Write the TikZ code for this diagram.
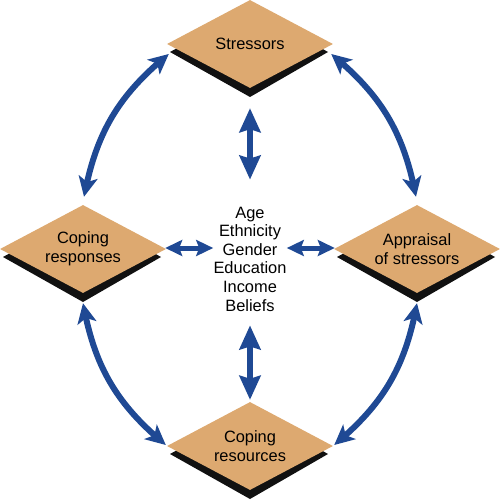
\documentclass[tikz,border=0pt]{standalone}
\usepackage{fontspec}
\setmainfont{Liberation Sans}
\usetikzlibrary{shapes.geometric,arrows.meta,calc,bending}
\definecolor{tan}{RGB}{221,169,112}
\definecolor{arrblue}{RGB}{31,73,148}
\definecolor{shade}{RGB}{17,17,17}
\tikzset{
  box/.style={diamond, fill=tan, inner sep=0pt, aspect=1.886,
    minimum width=166pt, minimum height=88pt, align=center,
    font=\fontsize{16.4pt}{18.6pt}\selectfont},
  shadowfill/.style={fill=shade},
  curvearr/.style={draw=arrblue, line width=6pt,
    {Stealth[length=20pt,width=19pt,inset=5pt,flex]}-{Stealth[length=20pt,width=19pt,inset=5pt,flex]}},
  vertarr/.style={draw=arrblue, line width=5.5pt,
    {Stealth[length=24pt,width=21pt,inset=3pt]}-{Stealth[length=24pt,width=21pt,inset=3pt]}},
  horarr/.style={draw=arrblue, line width=5pt,
    {Stealth[length=17pt,width=16pt,inset=3pt]}-{Stealth[length=17pt,width=16pt,inset=3pt]}},
  centertext/.style={align=center, inner sep=0pt,
    font=\fontsize{16.4pt}{18.6pt}\selectfont}
}
\begin{document}
\begin{tikzpicture}[x=1pt,y=-1pt]
\useasboundingbox (0,0) rectangle (500,500);
% centres
\coordinate (cS) at (250,44);
\coordinate (cR) at (83,249);
\coordinate (cA) at (417,249);
\coordinate (cC) at (250,446);
% shadows
\foreach \c in {cS,cR,cA,cC}{
  \fill[shadowfill] ($(\c)+(-80,8)$) -- ($(\c)+(0,-36)$) -- ($(\c)+(78,8)$) -- ($(\c)+(0,53)$) -- cycle;
}
% diamonds
\node[box] (stress) at (cS) {Stressors};
\node[box] (cope) at (cR) {Coping\\responses};
\node[box] (appr) at (cA) {Appraisal\\of stressors};
\node[box] (res) at (cC) {Coping\\resources};
% centre text
\node[centertext] (mid) at (250,259) {Age\\Ethnicity\\Gender\\Education\\Income\\Beliefs};
% arrow end points
\coordinate (tlA) at ($(stress.west)+(2,10)$);
\coordinate (tlB) at ($(cope.north)+(1,-8)$);
\coordinate (trA) at ($(stress.east)+(-2,10)$);
\coordinate (trB) at ($(appr.north)+(-1,-8)$);
\coordinate (blA) at ($(cope.south)+(0,10)$);
\coordinate (blB) at ($(res.west)+(-1,-1)$);
\coordinate (brA) at ($(appr.south)+(0,10)$);
\coordinate (brB) at ($(res.east)+(1,-1)$);
\coordinate (vtA) at ($(stress.south)+(0,20)$);
\coordinate (vtB) at ($(mid.north)+(0,-27)$);
\coordinate (vbA) at ($(mid.south)+(0,14)$);
\coordinate (vbB) at ($(res.north)+(0,-2)$);
\coordinate (hlA) at ($(cope.east)+(-1,-1)$);
\coordinate (hlB) at ($(cope.east)+(47,-1)$);
\coordinate (hrA) at ($(appr.west)+(-47,-1)$);
\coordinate (hrB) at ($(appr.west)+(1,-1)$);
% arrows
\draw[curvearr] (tlA) to[bend right=20] (tlB);
\draw[curvearr] (trA) to[bend left=20] (trB);
\draw[curvearr] (blA) to[bend right=20] (blB);
\draw[curvearr] (brA) to[bend left=20] (brB);
\draw[vertarr] (vtA) -- (vtB);
\draw[vertarr] (vbA) -- (vbB);
\draw[horarr] (hlA) -- (hlB);
\draw[horarr] (hrA) -- (hrB);
\end{tikzpicture}
\end{document}
